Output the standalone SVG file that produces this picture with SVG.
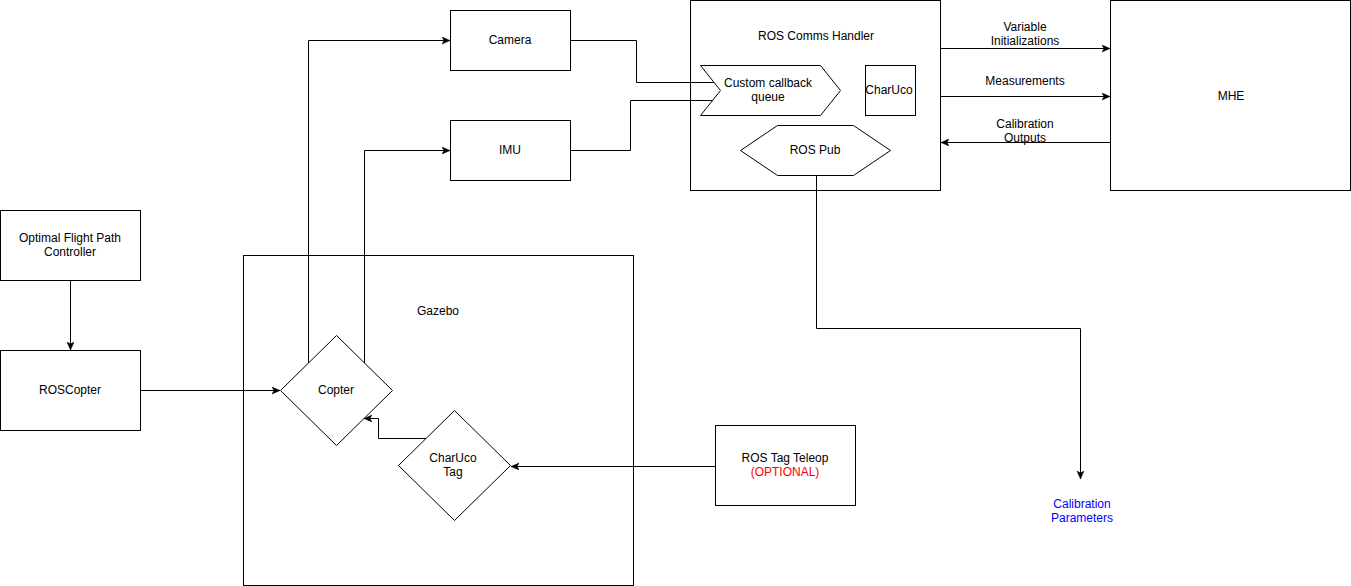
<svg xmlns="http://www.w3.org/2000/svg" width="1351" height="586" viewBox="0 0 1351 586">
  <style>
    .box { fill: #ffffff; stroke: #000000; stroke-width: 1; }
    .wire { fill: none; stroke: #000000; stroke-width: 1; }
    .arrow { marker-end: url(#head); }
    text { font-family: "Liberation Sans", Arial, sans-serif; font-size: 12px; fill: #000000; text-anchor: middle; }
    .red { fill: #ff0000; }
    .blue { fill: #0000ff; }
  </style>
  <defs>
    <marker id="head" markerWidth="10" markerHeight="8" refX="8" refY="3.5" orient="auto" markerUnits="userSpaceOnUse">
      <path d="M0,0 L8,3.5 L0,7 L2,3.5 Z" fill="#000000" stroke="#000000" stroke-width="0.5"/>
    </marker>
  </defs>
  <rect width="1351" height="586" fill="#ffffff"/>

  <g id="gazebo">
    <rect class="box" x="243.5" y="255.5" width="390" height="330"/>
    <text x="438" y="315">Gazebo</text>
  </g>

  <g id="camera">
    <rect class="box" x="450.5" y="10.5" width="120" height="60"/>
    <text x="510" y="44">Camera</text>
  </g>

  <g id="imu">
    <rect class="box" x="450.5" y="120.5" width="120" height="60"/>
    <text x="510" y="154">IMU</text>
  </g>

  <g id="ros-comms-handler">
    <rect class="box" x="690.5" y="0.5" width="250" height="190"/>
    <text x="816" y="40">ROS Comms Handler</text>
  </g>

  <g id="custom-callback-queue">
    <polygon class="box" points="700.5,65.5 820.5,65.5 840.5,90.5 820.5,115.5 700.5,115.5 720.5,90.5"/>
    <text x="768" y="87">Custom callback</text>
    <text x="768" y="101">queue</text>
  </g>

  <g id="charuco">
    <rect class="box" x="865.5" y="65.5" width="50" height="50"/>
    <text x="889" y="94">CharUco</text>
  </g>

  <g id="ros-pub">
    <polygon class="box" points="740.5,150.5 777.5,125.5 853.5,125.5 890.5,150.5 853.5,175.5 777.5,175.5"/>
    <text x="815" y="154">ROS Pub</text>
  </g>

  <g id="mhe">
    <rect class="box" x="1110.5" y="0.5" width="240" height="190"/>
    <text x="1231" y="100">MHE</text>
  </g>

  <g id="optimal-flight-path-controller">
    <rect class="box" x="0.5" y="210.5" width="140" height="70"/>
    <text x="70" y="242">Optimal Flight Path</text>
    <text x="70" y="256">Controller</text>
  </g>

  <g id="roscopter">
    <rect class="box" x="0.5" y="350.5" width="140" height="80"/>
    <text x="70" y="394">ROSCopter</text>
  </g>

  <g id="copter">
    <polygon class="box" points="336.5,335.5 392.5,390.5 336.5,445.5 280.5,390.5"/>
    <text x="336" y="394">Copter</text>
  </g>

  <g id="charuco-tag">
    <polygon class="box" points="454.5,410.5 510.5,465.5 454.5,520.5 398.5,465.5"/>
    <text x="453" y="462">CharUco</text>
    <text x="453" y="476">Tag</text>
  </g>

  <g id="ros-tag-teleop">
    <rect class="box" x="715.5" y="425.5" width="140" height="80"/>
    <text x="785" y="462">ROS Tag Teleop</text>
    <text x="785" y="476" class="red">(OPTIONAL)</text>
  </g>

  <g id="calibration-parameters">
    <text x="1082" y="508" class="blue">Calibration</text>
    <text x="1082" y="522" class="blue">Parameters</text>
  </g>

  <g id="connectors">
    <!-- sensors into the callback queue -->
    <polyline class="wire" points="570.5,40.5 636.5,40.5 636.5,82.5 714,82.5"/>
    <polyline class="wire" points="570.5,150.5 630.5,150.5 630.5,100.5 713,100.5"/>
    <!-- copter to sensors -->
    <polyline class="wire arrow" points="308.5,363 308.5,40.5 450,40.5"/>
    <polyline class="wire arrow" points="364.5,363 364.5,150.5 450,150.5"/>
    <!-- controller chain -->
    <line class="wire arrow" x1="70.5" y1="280.5" x2="70.5" y2="350"/>
    <line class="wire arrow" x1="140.5" y1="390.5" x2="280" y2="390.5"/>
    <!-- tag to copter -->
    <polyline class="wire arrow" points="426,438.5 378.5,438.5 378.5,418.5 364,418.5"/>
    <line class="wire arrow" x1="715.5" y1="466.5" x2="511" y2="466.5"/>
    <!-- comms handler and MHE -->
    <line class="wire arrow" x1="940.5" y1="48.5" x2="1110" y2="48.5"/>
    <text x="1025" y="31">Variable</text>
    <text x="1025" y="45">Initializations</text>
    <line class="wire arrow" x1="940.5" y1="96.5" x2="1110" y2="96.5"/>
    <text x="1025" y="85">Measurements</text>
    <line class="wire arrow" x1="1110.5" y1="142.5" x2="941" y2="142.5"/>
    <text x="1025" y="128">Calibration</text>
    <text x="1025" y="142">Outputs</text>
    <!-- publisher output -->
    <polyline class="wire arrow" points="816.5,175.5 816.5,328.5 1080.5,328.5 1080.5,479"/>
  </g>
</svg>
